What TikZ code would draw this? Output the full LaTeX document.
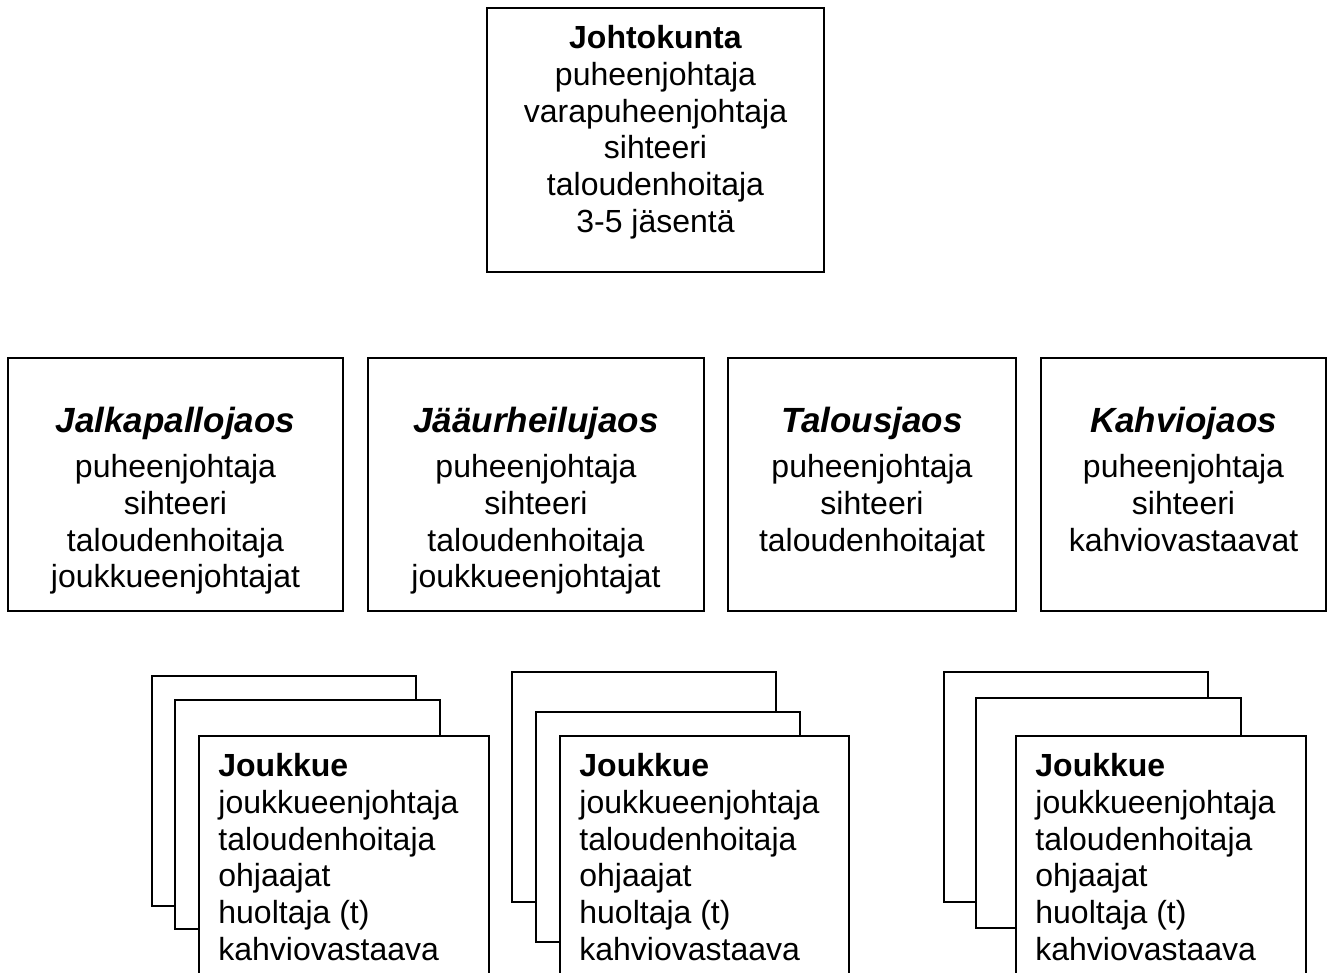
\documentclass[tikz,border=0pt]{standalone}
\usepackage{fontspec}
\setmainfont{Liberation Sans}
\usetikzlibrary{positioning}

\tikzset{
  box/.style={draw, line width=1pt, fill=white, inner sep=0pt},
  lbl/.style={align=center, inner sep=0pt, font=\fontsize{16}{18.4}\selectfont}
}
\newcommand{\jaosname}[1]{{\fontsize{17.5}{18.4}\selectfont\bfseries\itshape #1}}

\begin{document}
\begin{tikzpicture}[x=0.5pt, y=-0.5pt]

\useasboundingbox (0,0) rectangle (1333,973);
\clip (0,0) rectangle (1333,973);

% johtokunta
\node (top)[box, minimum width=168.5pt, minimum height=132pt] at (655.5,140) {};
\node (toptxt)[lbl, below=9pt of top.north] {\textbf{Johtokunta}\\ puheenjohtaja\\ varapuheenjohtaja\\ sihteeri\\ taloudenhoitaja\\ 3-5 jäsentä};

% jaostot
\node (r1)[box, minimum width=167.5pt, minimum height=126.5pt] at (175.5,484.5) {};
\node (r2)[box, minimum width=168pt, minimum height=126.5pt] at (536,484.5) {};
\node (r3)[box, minimum width=144pt, minimum height=126.5pt] at (872,484.5) {};
\node (r4)[box, minimum width=142.5pt, minimum height=126.5pt] at (1183.5,484.5) {};

\node (r1txt)[lbl, below=25pt of r1.north] {\jaosname{Jalkapallojaos}\\[4pt] puheenjohtaja\\ sihteeri\\ taloudenhoitaja\\ joukkueenjohtajat};
\node (r2txt)[lbl, below=25pt of r2.north] {\jaosname{Jääurheilujaos}\\[4pt] puheenjohtaja\\ sihteeri\\ taloudenhoitaja\\ joukkueenjohtajat};
\node (r3txt)[lbl, below=25pt of r3.north] {\jaosname{Talousjaos}\\[4pt] puheenjohtaja\\ sihteeri\\ taloudenhoitajat};
\node (r4txt)[lbl, below=25pt of r4.north] {\jaosname{Kahviojaos}\\[4pt] puheenjohtaja\\ sihteeri\\ kahviovastaavat};

% joukkueet
\node (a1)[box, minimum width=132pt, minimum height=115pt] at (284,791) {};
\node (a2)[box, minimum width=132.5pt, minimum height=114.5pt] at (307.5,814.5) {};
\node (a3)[box, minimum width=145pt, minimum height=132pt] at (344,868) {};

\node (b1)[box, minimum width=132pt, minimum height=115pt] at (644,787) {};
\node (b2)[box, minimum width=132pt, minimum height=115pt] at (668,827) {};
\node (b3)[box, minimum width=144.5pt, minimum height=132pt] at (704.5,868) {};

\node (c1)[box, minimum width=132pt, minimum height=115pt] at (1076,787) {};
\node (c2)[box, minimum width=132.5pt, minimum height=115pt] at (1108.5,813) {};
\node (c3)[box, minimum width=145pt, minimum height=132pt] at (1161,868) {};

\node (a3txt)[lbl, align=left, below right=9pt and 10pt of a3.north west] {\textbf{Joukkue}\\ joukkueenjohtaja\\ taloudenhoitaja\\ ohjaajat\\ huoltaja (t)\\ kahviovastaava};
\node (b3txt)[lbl, align=left, below right=9pt and 10pt of b3.north west] {\textbf{Joukkue}\\ joukkueenjohtaja\\ taloudenhoitaja\\ ohjaajat\\ huoltaja (t)\\ kahviovastaava};
\node (c3txt)[lbl, align=left, below right=9pt and 10pt of c3.north west] {\textbf{Joukkue}\\ joukkueenjohtaja\\ taloudenhoitaja\\ ohjaajat\\ huoltaja (t)\\ kahviovastaava};

\end{tikzpicture}
\end{document}
